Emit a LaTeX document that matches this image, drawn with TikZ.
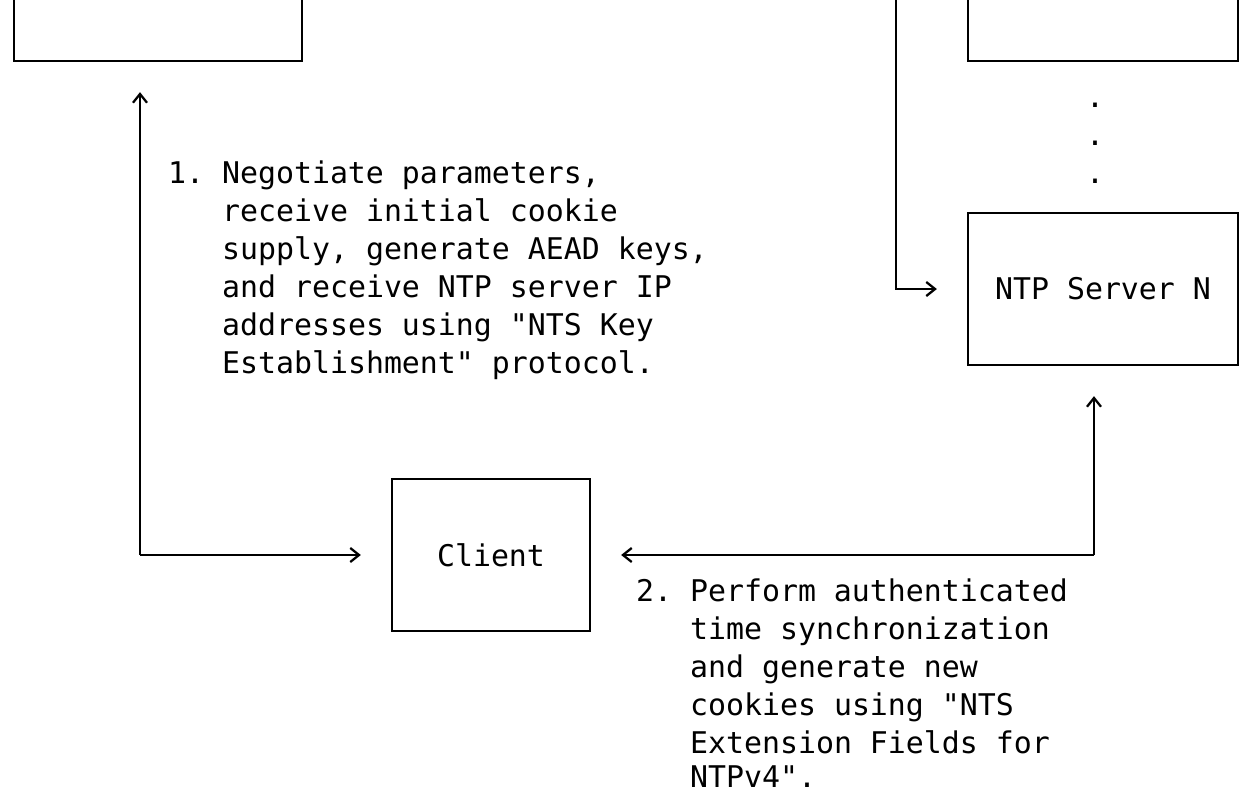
\documentclass[tikz,border=0pt]{standalone}
\usepackage{fontspec}
\usetikzlibrary{arrows.meta}
\newfontfamily\ntsmono{DejaVu Sans Mono}
\newcommand{\monotext}{\ntsmono\fontsize{17pt}{21.6pt}\selectfont\frenchspacing}

\begin{document}
\begin{tikzpicture}[x=0.36cm,y=-0.76cm,>={Straight Barb[length=5pt,width=8pt]},
    line width=1.3pt,
    box/.style={draw,font=\monotext,inner sep=0pt,minimum height=3.04cm},
    note/.style={font=\monotext,inner sep=0pt,anchor=base west},
    gap/.style={shorten >=0.6cm}]
  \useasboundingbox (-0.7778,-0.6053) rectangle (68.5,20.263);
  \clip (-0.7778,-0.6053) rectangle (68.5,20.263);
  % boxes
  \node[box,minimum width=5.76cm] (ke) at (8,-1) {};
  \node[box,minimum width=5.4cm] (ntpone) at (60.5,-1) {};
  \node[box,minimum width=5.4cm] (ntpn) at (60.5,7) {NTP Server N};
  \node[box,minimum width=3.96cm] (client) at (26.5,14) {Client};
  \foreach \r in {2,3,4}
    \node[note] (dot\r) at (59.5,\r+0.22) {.};
  % corners of the connectors
  \coordinate (lcorner) at (7,14);
  \coordinate (rcorner) at (60,14);
  \coordinate (forktop) at (49,-1);
  \draw[->,gap] (lcorner) -- (lcorner |- ke.south);
  \draw[->,gap] (lcorner) -- (client.west);
  \draw[->,gap] (rcorner) -- (client.east);
  \draw[->,gap] (rcorner) -- (rcorner |- ntpn.south);
  \draw[->,gap] (forktop) |- (ntpn.west);
  % step 1
  \node[note] (stepone) at (8.5,4.22) {1. Negotiate parameters,};
  \node[note] (steponeb) at (11.5,5.22) {receive initial cookie};
  \node[note] (steponec) at (11.5,6.22) {supply, generate AEAD keys,};
  \node[note] (steponed) at (11.5,7.22) {and receive NTP server IP};
  \node[note] (steponee) at (11.5,8.22) {addresses using "NTS Key};
  \node[note] (steponef) at (11.5,9.22) {Establishment" protocol.};
  % step 2
  \node[note] (steptwo) at (34.5,15.22) {2. Perform authenticated};
  \node[note] (steptwob) at (37.5,16.22) {time synchronization};
  \node[note] (steptwoc) at (37.5,17.22) {and generate new};
  \node[note] (steptwod) at (37.5,18.22) {cookies using "NTS};
  \node[note] (steptwoe) at (37.5,19.22) {Extension Fields for};
  \node[note] (steptwof) at (37.5,20.12) {NTPv4".};
\end{tikzpicture}
\end{document}
